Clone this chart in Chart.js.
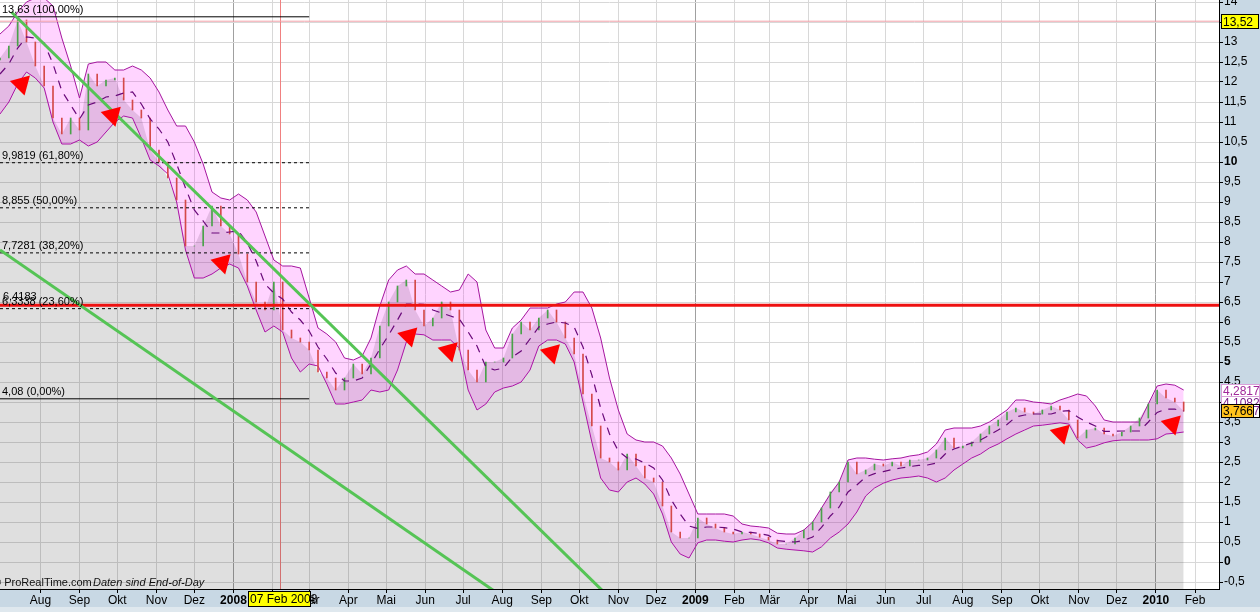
<!DOCTYPE html>
<html>
<head>
<meta charset="utf-8">
<script src="https://cdn.jsdelivr.net/npm/chart.js@4.4.1/dist/chart.umd.min.js"></script>
<style>
  html, body { margin: 0; padding: 0; background: #c8d8e4; }
  #wrap { width: 1260px; height: 612px; position: relative; }
</style>
</head>
<body>
<div id="wrap"><canvas id="chart"></canvas></div>
<script>
// x positions are days counted from BASE, one close per week
const BASE = '2007-06-30';
const xEndDate = '2010-02-20';
const firstMonth = '2007-08-01';
const lastMonth = '2010-02-01';
const monthNames = ['Jan', 'Feb', 'Mär', 'Apr', 'Mai', 'Jun', 'Jul', 'Aug', 'Sep', 'Okt', 'Nov', 'Dez'];

// weekly closes
const closes = [
  12.6, 12.9, 13.55, 13.0, 12.4, 11.9, 11.1, 10.7, 11.1, 10.8,
  12.2, 11.9, 12.05, 12.1, 11.55, 11.3, 11.1, 10.3, 10.0, 9.6,
  9.05, 7.9, 7.9, 8.4, 8.9, 8.4, 8.2, 7.7, 7.0, 6.5,
  6.3, 7.0, 5.8, 5.6, 5.5, 5.3, 4.75, 4.6, 4.3, 4.6,
  4.95, 4.7, 5.1, 5.9, 6.5, 6.9, 7.05, 6.3, 5.9, 6.1,
  6.5, 6.3, 5.3, 4.8, 4.5, 5.0, 5.0, 5.1, 5.7, 6.0,
  5.8, 6.1, 6.3, 6.0, 5.6, 5.2, 4.2, 3.4, 2.6, 2.5,
  2.3, 2.7, 2.4, 2.1, 2.0, 1.4, 0.75, 0.6, 0.6, 1.1,
  0.95, 0.85, 0.75, 0.7, 0.75, 0.7, 0.62, 0.55, 0.45, 0.45,
  0.6, 0.8, 1.0, 1.35, 1.75, 2.0, 2.5, 2.2, 2.3, 2.45,
  2.4, 2.5, 2.4, 2.55, 2.55, 2.6, 2.8, 3.1, 2.85, 2.9,
  3.0, 3.2, 3.4, 3.55, 3.75, 3.85, 3.75, 3.7, 3.8, 3.9,
  3.8, 3.55, 3.1, 3.3, 3.35, 3.2, 3.15, 3.25, 3.4, 3.6,
  3.95, 4.3, 4.1, 4.0, 3.77
];

// Bollinger bands, same weeks
const bandUpper = [
  13.2, 13.4, 13.75, 14.0, 14.1, 14.1, 13.9, 13.1, 12.4, 11.6,
  12.45, 12.5, 12.5, 12.3, 12.3, 12.4, 12.3, 12.1, 11.75, 11.3,
  10.9, 10.9, 10.5, 9.95, 9.25, 9.1, 9.05, 9.2, 9.05, 8.75,
  8.15, 7.55, 7.4, 7.4, 7.35, 6.6, 5.85, 5.7, 5.5, 5.1,
  5.05, 5.15, 5.6, 6.4, 7.05, 7.3, 7.4, 7.2, 7.2, 7.05,
  6.9, 6.75, 6.8, 7.2, 7.0, 5.8, 5.35, 5.35, 5.85, 6.05,
  6.35, 6.35, 6.35, 6.45, 6.5, 6.75, 6.75, 6.35, 5.6, 4.6,
  3.8, 3.2, 3.05, 3.0, 3.0, 2.9, 2.6, 2.2, 1.7, 1.2,
  1.2, 1.2, 1.2, 1.15, 0.95, 0.9, 0.88, 0.85, 0.72, 0.7,
  0.7, 0.8, 1.0, 1.35, 1.7, 2.0, 2.55, 2.6, 2.6, 2.57,
  2.55, 2.58, 2.6, 2.65, 2.68, 2.75, 2.95, 3.3, 3.35, 3.35,
  3.35, 3.4, 3.5, 3.65, 3.8, 4.05, 4.05, 4.0, 3.98, 3.95,
  4.05, 4.12, 4.2, 4.15, 3.9, 3.55, 3.5, 3.5, 3.5, 3.5,
  3.95, 4.4, 4.45, 4.42, 4.3
];
const bandLower = [
  11.2, 11.5, 11.95, 12.25, 12.1, 11.85, 11.0, 10.45, 10.45, 10.55,
  10.4, 10.5, 10.75, 11.0, 11.15, 11.1, 10.6, 10.05, 9.9, 9.7,
  9.0, 7.8, 7.1, 7.1, 7.2, 7.35, 7.45, 7.35, 6.9, 6.3,
  5.75, 5.9, 5.75, 5.1, 4.75, 4.95, 4.9, 4.45, 3.95, 3.95,
  4.0, 4.05, 4.3, 4.25, 4.3, 4.8, 5.5, 5.7, 5.68, 5.55,
  5.55, 5.55, 5.35, 4.3, 3.8, 3.95, 4.25, 4.35, 4.4, 4.5,
  4.8, 5.4, 5.55, 5.55, 5.45, 5.0, 4.0, 3.0, 2.1, 1.8,
  1.75, 2.0, 2.1, 1.95, 1.7, 1.2, 0.5, 0.2, 0.1, 0.48,
  0.55, 0.55, 0.52, 0.5, 0.55, 0.58, 0.55, 0.48, 0.35, 0.32,
  0.3, 0.28, 0.25, 0.38, 0.6, 0.75, 0.95, 1.25, 1.65, 1.85,
  1.97, 2.05, 2.1, 2.12, 2.15, 2.1, 2.0, 2.1, 2.3, 2.45,
  2.6, 2.7, 2.85, 2.95, 3.08, 3.2, 3.3, 3.4, 3.42, 3.45,
  3.48, 3.45, 3.05, 2.85, 2.9, 2.98, 3.03, 3.05, 3.05, 3.05,
  3.05, 3.08, 3.2, 3.22, 3.25
];

// Fibonacci retracement
const fibLevels = [13.63, 9.9819, 8.855, 7.7281, 6.3338, 4.08];
const fibPercents = ['100,00%', '61,80%', '50,00%', '38,20%', '23,60%', '0,00%'];
const fibEndDate = '2008-03-01';

const resistance = 6.4183;
const highLine = 13.52;
const cursorDate = '2008-02-07';

const trendADates = ['2007-07-09', '2008-10-27'];
const trendAValues = [13.75, -0.95];
const trendBDates = ['2007-06-30', '2008-08-05'];
const trendBValues = [7.8, -0.95];

const markerDates = ['2007-07-17', '2007-09-27', '2007-12-23', '2008-05-19', '2008-06-20', '2008-09-09', '2009-10-18', '2010-01-14'];
const markerValues = [11.95, 11.17, 7.48, 5.65, 5.28, 5.23, 3.22, 3.45];

const yTickValues = [-0.5, 0, 0.5, 1, 1.5, 2, 2.5, 3, 3.5, 4, 4.5, 5, 5.5, 6, 6.5, 7, 7.5, 8, 8.5, 9, 9.5, 10, 10.5, 11, 11.5, 12, 12.5, 13, 13.5, 14];
const boldYTicks = [0, 5, 10];
const lastUpper = '4,2817', lastMid = '4,1082', lastClose = '3,766', lastClose2 = '3,7667';

const FONT = 'Liberation Sans';
const t0 = Date.parse(BASE);
const day = s => (Date.parse(s) - t0) / 864e5;
const fmt = v => String(v).replace('.', ',');
const weekX = closes.map((_, i) => i * 7);
const series = arr => arr.map((v, i) => ({ x: weekX[i], y: v }));
const bandMid = bandUpper.map((u, i) => (u + bandLower[i]) / 2);
const xMax = day(xEndDate);

const monthTicks = [];
for (let d = new Date(firstMonth); d <= new Date(lastMonth); d.setUTCMonth(d.getUTCMonth() + 1)) {
  const m = d.getUTCMonth();
  monthTicks.push({
    value: day(d.toISOString().slice(0, 10)),
    major: m === 0,
    text: m === 0 ? String(d.getUTCFullYear()) : monthNames[m]
  });
}

const priceBars = closes.map((c, i) => ({ x: weekX[i], y: [i ? closes[i - 1] : c - 0.05, c] }));
const barColors = closes.map((c, i) => (i && c < closes[i - 1]) ? '#d44a4a' : '#4aa24a');

const flat = (v, x0, x1) => [{ x: x0, y: v }, { x: x1, y: v }];
const line = (dates, vals) => dates.map((d, i) => ({ x: day(d), y: vals[i] }));

const datasets = [
  { type: 'scatter', data: line(markerDates, markerValues), pointStyle: 'triangle', pointRadius: 12,
    pointRotation: 285, pointBackgroundColor: '#ff0000', pointBorderWidth: 0, showLine: false, order: 0 },
  { data: line(trendADates, trendAValues), borderColor: '#55c455', borderWidth: 3, order: 1 },
  { data: line(trendBDates, trendBValues), borderColor: '#55c455', borderWidth: 3, order: 1 },
  { data: flat(resistance, 0, xMax), borderColor: '#ee1111', borderWidth: 3, order: 2 },
  { data: flat(highLine, 0, xMax), borderColor: '#f2a0a8', borderWidth: 1, order: 2 }
];
fibLevels.forEach((lv, i) => {
  const solid = i === 0 || i === fibLevels.length - 1;
  datasets.push({ data: flat(lv, 0, day(fibEndDate)), borderColor: '#000', borderWidth: 1,
    borderDash: solid ? [] : [3, 3], order: 3 });
});
datasets.push(
  { data: series(bandMid), borderColor: '#6a0a7a', borderWidth: 1.2, borderDash: [8, 7], order: 4 },
  { type: 'bar', data: priceBars, backgroundColor: barColors, barThickness: 1, order: 5 },
  { data: series(bandUpper), borderColor: '#a5169f', borderWidth: 1, fill: '+1',
    backgroundColor: 'rgba(255,0,255,0.17)', order: 6 },
  { data: series(bandLower), borderColor: '#a5169f', borderWidth: 1, order: 6 },
  { data: series(closes), borderWidth: 0, borderColor: 'rgba(0,0,0,0)', fill: 'start',
    backgroundColor: 'rgba(0,0,0,0.125)', order: 8 }
);
datasets.forEach(ds => { ds.clip = 0; if (!ds.type) ds.pointRadius = 0; });

function box(ctx, x, y, w, h, fill, stroke, text, color) {
  ctx.fillStyle = fill;
  ctx.fillRect(x, y, w, h);
  if (stroke) { ctx.strokeStyle = stroke; ctx.lineWidth = 1; ctx.strokeRect(x + 0.5, y + 0.5, w - 1, h - 1); }
  ctx.fillStyle = color;
  ctx.textBaseline = 'middle';
  ctx.textAlign = 'left';
  ctx.fillText(text, x + 2, y + h / 2 + 1);
}

const frame = {
  id: 'frame',
  beforeDraw(chart) {
    const { ctx, chartArea: a, width, height } = chart;
    ctx.save();
    ctx.fillStyle = '#c8d8e4';
    ctx.fillRect(0, 0, width, height);
    ctx.fillStyle = '#dfe8ee';
    ctx.fillRect(0, height - 5, width, 5);
    ctx.fillStyle = '#fff';
    ctx.fillRect(a.left, a.top, a.right - a.left, a.bottom - a.top);
    ctx.restore();
  },
  beforeDatasetsDraw(chart) {
    const { ctx, chartArea: a, scales } = chart;
    const x = Math.round(scales.x.getPixelForValue(day(cursorDate))) + 0.5;
    ctx.save();
    ctx.strokeStyle = '#f08080';
    ctx.lineWidth = 1;
    ctx.beginPath();
    ctx.moveTo(x, a.top);
    ctx.lineTo(x, a.bottom);
    ctx.stroke();
    ctx.restore();
  },
  afterDraw(chart) {
    const { ctx, scales, chartArea: a } = chart;
    const y = scales.y;
    ctx.save();
    ctx.font = '11px ' + FONT;
    ctx.fillStyle = '#000';
    ctx.textBaseline = 'bottom';
    fibLevels.forEach((lv, i) => {
      ctx.fillText(fmt(lv) + ' (' + fibPercents[i] + ')', 2, y.getPixelForValue(lv) - 1);
    });
    ctx.fillText(fmt(resistance), 3, y.getPixelForValue(resistance) - 3);

    // watermark
    ctx.textBaseline = 'middle';
    ctx.fillStyle = '#111';
    ctx.font = '11px ' + FONT;
    ctx.fillText('\u00a9 ProRealTime.com', -7, 583);
    ctx.font = 'italic 11px ' + FONT;
    ctx.fillText('Daten sind End-of-Day', 93, 583);

    // right-axis price labels
    ctx.font = '12px ' + FONT;
    const ax = a.right + 2;
    box(ctx, ax, Math.round(y.getPixelForValue(highLine)) - 7, 38, 15, '#ffff00', '#000', fmt(highLine), '#000');
    const yu = Math.round(y.getPixelForValue(4.2817));
    box(ctx, ax, yu - 7, 39, 14, '#fff', '#d9a0d9', lastUpper, '#a0289a');
    box(ctx, ax, yu + 5, 39, 13, '#fff', '#d9a0d9', lastMid, '#7a1f8a');
    const yc = Math.round(y.getPixelForValue(3.766));
    box(ctx, ax, yc - 7, 39, 14, '#fff', '#000', lastClose2, '#7a1f8a');
    box(ctx, ax, yc - 7, 33, 14, '#ffc21c', '#000', lastClose, '#000');

    // date cursor label on the time axis
    const cx = scales.x.getPixelForValue(day(cursorDate));
    box(ctx, Math.round(cx) - 32, a.bottom + 2, 63, 16, '#ffff00', '#000', '07 Feb 2008', '#000');
    ctx.restore();
  }
};

new Chart(document.getElementById('chart'), {
  type: 'line',
  data: { datasets },
  plugins: [frame],
  options: {
    responsive: true,
    maintainAspectRatio: false,
    animation: false,
    devicePixelRatio: 1,
    layout: { padding: 0, autoPadding: false },
    plugins: { legend: { display: false }, tooltip: { enabled: false } },
    elements: { line: { tension: 0 }, point: { radius: 0 } },
    scales: {
      x: {
        type: 'linear', min: 0, max: xMax, offset: false,
        afterBuildTicks: s => { s.ticks = monthTicks.map(t => ({ value: t.value, major: t.major, text: t.text })); },
        afterFit: s => { s.height = 23; s.paddingLeft = 0; s.paddingRight = 0; },
        grid: {
          offset: false,
          color: c => (c.tick && c.tick.major) ? '#a0a0a0' : '#d8d8d8',
          tickColor: '#000', tickLength: 4
        },
        border: { color: '#000', width: 1 },
        ticks: {
          autoSkip: false, maxRotation: 0, minRotation: 0, padding: 0, color: '#000',
          font: c => ({ family: FONT, size: 12, weight: (c.tick && c.tick.major) ? 'bold' : 'normal' }),
          callback: (v, i, ticks) => ticks[i].text
        }
      },
      y: {
        type: 'linear', position: 'right', min: -0.675, max: 14.05,
        afterBuildTicks: s => { s.ticks = yTickValues.map(v => ({ value: v })); },
        afterFit: s => { s.width = 41; s.paddingTop = 0; s.paddingBottom = 0; },
        grid: { color: '#d8d8d8', tickColor: '#000', tickLength: 4 },
        border: { color: '#000', width: 1 },
        ticks: {
          padding: 1, color: '#000',
          font: c => ({ family: FONT, size: 12, weight: (c.tick && boldYTicks.includes(c.tick.value)) ? 'bold' : 'normal' }),
          callback: v => fmt(v)
        }
      }
    }
  }
});
</script>
</body>
</html>
